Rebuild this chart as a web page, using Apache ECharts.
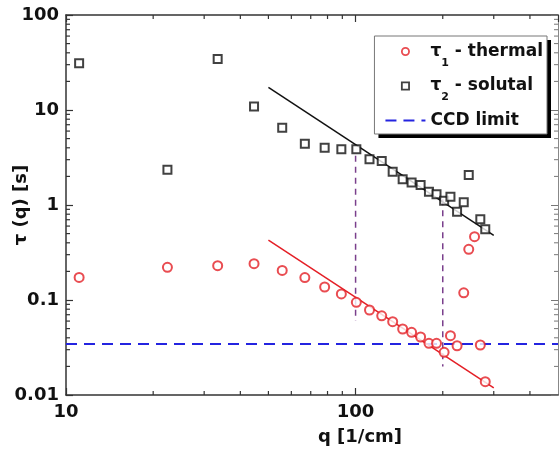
<!DOCTYPE html>
<html>
<head>
<meta charset="utf-8">
<script src="https://cdn.jsdelivr.net/npm/echarts@6/dist/echarts.min.js"></script>
<style>html,body{margin:0;padding:0;background:#fff}#c{width:560px;height:455px}</style>
</head>
<body>
<div id="c"></div>
<script>
// q values [1/cm]
const qThermal = [11.1,22.4,33.4,44.6,55.8,66.8,78.2,89.3,100.6,111.7,123.1,134.3,145.4,156.1,167.7,179.2,190.3,202.2,212.6,224.1,236.3,245.9,257.5,269.6,280.4];
const tauThermal = [0.173,0.221,0.230,0.241,0.205,0.172,0.137,0.116,0.0946,0.0785,0.0682,0.0591,0.0495,0.0457,0.0408,0.0350,0.0350,0.0281,0.0421,0.033,0.119,0.342,0.464,0.0336,0.0138];
const qSolutal = [11.1,22.4,33.4,44.6,55.8,66.8,78.2,89.3,100.6,111.7,123.1,134.3,145.4,156.1,167.7,179.2,190.3,202.2,212.6,224.1,236.3,245.9,269.6,280.4];
const tauSolutal = [31.0,2.35,34.4,10.9,6.51,4.42,4.01,3.86,3.86,3.03,2.90,2.24,1.87,1.73,1.62,1.38,1.30,1.11,1.22,0.85,1.07,2.07,0.71,0.555];
// power-law fits (q^-2)
const fitQ = [50, 300];
const fitSolutal = [17.3, 0.48];
const fitThermal = [0.428, 0.0119];
// CCD limit
const ccdQ = [10, 500];
const ccdTau = [0.0345, 0.0345];
// vertical guide lines
const guide1Q = [100, 100], guide1Tau = [3.3, 0.06];
const guide2Q = [200, 200], guide2Tau = [1.15, 0.02];
// axis ticks
const xMinor = [20,30,40,50,60,70,80,90,200,300,400];
const yMinor = [0.02,0.03,0.04,0.05,0.06,0.07,0.08,0.09,0.2,0.3,0.4,0.5,0.6,0.7,0.8,0.9,2,3,4,5,6,7,8,9,20,30,40,50,60,70,80,90];
const xRange = [10, 500];
const yRange = [0.01, 100];
const xTickLabels = ['10','100'];

const zip = (a, b) => a.map((v, i) => [v, b[i]]);
const FONT = 'DejaVu Sans';
const AX = '#333';
const SQUARE_ICON = 'path://M0,0H10V10H0Z M2,2V8H8V2Z';
const CIRCLE_ICON = 'path://M5,0A5,5,0,1,1,4.99,0Z M5,2A3,3,0,1,0,5.01,2Z';

const chart = echarts.init(document.getElementById('c'), null, {renderer: 'canvas'});

function xTickRender(params, api) {
  const v = api.value(0);
  const b = api.coord([v, yRange[0]]);
  const t = api.coord([v, yRange[1]]);
  return {type: 'group', children: [
    {type: 'line', shape: {x1: b[0], y1: b[1], x2: b[0], y2: b[1] - 4}, style: {stroke: AX, lineWidth: 1.2}},
    {type: 'line', shape: {x1: t[0], y1: t[1], x2: t[0], y2: t[1] + 4}, style: {stroke: AX, lineWidth: 1.2}}
  ]};
}
function yTickRender(params, api) {
  const v = api.value(1);
  const l = api.coord([xRange[0], v]);
  const r = api.coord([xRange[1], v]);
  return {type: 'group', children: [
    {type: 'line', shape: {x1: l[0], y1: l[1], x2: l[0] + 4, y2: l[1]}, style: {stroke: AX, lineWidth: 1.2}},
    {type: 'line', shape: {x1: r[0], y1: r[1], x2: r[0] - 4, y2: r[1]}, style: {stroke: '#777', lineWidth: 1}}
  ]};
}

const logAxisBase = {
  type: 'log', logBase: 10,
  splitLine: {show: false},
  axisLine: {show: true, onZero: false, lineStyle: {color: AX, width: 1.5}},
  axisTick: {show: true, inside: true, length: 7, lineStyle: {color: AX, width: 1.2}}
};

const legendCommon = {
  orient: 'vertical', right: 13, top: 36,
  itemWidth: 40, itemHeight: 9, itemGap: 9,
  padding: [7, 4, 5, 10],
  formatter: function (n) {
    if (n === 't1') return '{a|τ}{s|1}{a| - thermal}';
    if (n === 't2') return '{a|τ}{s|2}{a| - solutal}';
    return '{a|CCD limit}';
  }
};
function legendText(color) {
  return {fontFamily: FONT, fontWeight: 'bold', fontSize: 17, color: color,
    rich: {
      a: {fontFamily: FONT, fontWeight: 'bold', fontSize: 17, color: color, lineHeight: 22},
      s: {fontFamily: FONT, fontWeight: 'bold', fontSize: 11, color: color, verticalAlign: 'bottom', lineHeight: 11, padding: [0, 0, -6, 0]}
    }};
}

chart.setOption({
  animation: false,
  grid: {left: 66, top: 15, right: 2, bottom: 60, outerBoundsMode: 'none'},
  xAxis: [
    Object.assign({}, logAxisBase, {
      position: 'bottom', min: xRange[0], max: xRange[1],
      name: 'q [1/cm]', nameLocation: 'middle', nameGap: 33,
      nameTextStyle: {fontFamily: FONT, fontWeight: 'bold', fontSize: 18, color: '#111', padding: [0, 0, 0, 96]},
      axisLabel: {fontFamily: FONT, fontWeight: 'bold', fontSize: 18, color: '#111', margin: 8,
        showMaxLabel: false,
        formatter: v => (xTickLabels.indexOf(String(Math.round(v))) >= 0 ? String(Math.round(v)) : '')}
    }),
    Object.assign({}, logAxisBase, {
      position: 'top', min: xRange[0], max: xRange[1],
      axisLabel: {show: false}
    })
  ],
  yAxis: [
    Object.assign({}, logAxisBase, {
      position: 'left', min: yRange[0], max: yRange[1],
      name: 'τ (q) [s]', nameLocation: 'middle', nameGap: 36, nameMoveOverlap: false,
      nameTextStyle: {fontFamily: FONT, fontWeight: 'bold', fontSize: 18, color: '#111'},
      axisLabel: {fontFamily: FONT, fontWeight: 'bold', fontSize: 18, color: '#111', margin: 7,
        formatter: v => String(+v.toPrecision(3))}
    }),
    Object.assign({}, logAxisBase, {
      position: 'right', min: yRange[0], max: yRange[1],
      axisLine: {show: true, onZero: false, lineStyle: {color: '#888', width: 1}},
      axisTick: {show: true, inside: true, length: 7, lineStyle: {color: '#777', width: 1}},
      axisLabel: {show: false}
    })
  ],
  legend: [
    Object.assign({}, legendCommon, {
      data: [
        {name: 't1', icon: CIRCLE_ICON, itemStyle: {color: '#e41f26', borderWidth: 0}},
        {name: 't2', icon: SQUARE_ICON, itemStyle: {color: '#111', borderWidth: 0}},
        {name: 'ccd', itemStyle: {color: 'rgba(0,0,0,0)', borderColor: 'rgba(0,0,0,0)', borderWidth: 0}}
      ],
      symbolKeepAspect: true,
      backgroundColor: '#fff', borderWidth: 0,
      shadowColor: '#000', shadowBlur: 0, shadowOffsetX: 4, shadowOffsetY: 4,
      textStyle: legendText('#111')
    }),
    Object.assign({}, legendCommon, {
      data: ['t1', 't2', 'ccd'],
      backgroundColor: 'rgba(0,0,0,0)', borderColor: '#777', borderWidth: 1,
      itemStyle: {opacity: 0}, lineStyle: {opacity: 0},
      textStyle: legendText('rgba(0,0,0,0)')
    })
  ],
  series: [
    {type: 'custom', name: 'xminor', data: xMinor.map(v => [v, yRange[0]]), renderItem: xTickRender, silent: true, clip: false, z: 1},
    {type: 'custom', name: 'yminor', data: yMinor.map(v => [xRange[0], v]), renderItem: yTickRender, silent: true, clip: false, z: 1},
    {type: 'line', name: 'ccd', data: zip(ccdQ, ccdTau), symbol: 'none',
      lineStyle: {color: '#2424e0', width: 2, type: [11, 7]}, itemStyle: {color: '#2424e0'}, z: 2},
    {type: 'line', name: 'g1', data: zip(guide1Q, guide1Tau), symbol: 'none',
      lineStyle: {color: '#7a3f8c', width: 1.5, type: [6, 5]}, z: 2},
    {type: 'line', name: 'g2', data: zip(guide2Q, guide2Tau), symbol: 'none',
      lineStyle: {color: '#7a3f8c', width: 1.5, type: [6, 5]}, z: 2},
    {type: 'line', name: 'fit2', data: zip(fitQ, fitSolutal), symbol: 'none',
      lineStyle: {color: '#111', width: 1.5}, z: 3},
    {type: 'line', name: 'fit1', data: zip(fitQ, fitThermal), symbol: 'none',
      lineStyle: {color: '#e41f26', width: 1.5}, z: 3},
    {type: 'scatter', name: 't1', data: zip(qThermal, tauThermal), symbol: 'emptyCircle', symbolSize: 9,
      itemStyle: {color: '#e41f26', borderColor: '#e41f26', borderWidth: 2}, z: 4},
    {type: 'scatter', name: 't2', data: zip(qSolutal, tauSolutal), symbol: 'emptyRect', symbolSize: 8,
      itemStyle: {color: '#111', borderColor: '#111', borderWidth: 2}, z: 4}
  ]
});
</script>
</body>
</html>
